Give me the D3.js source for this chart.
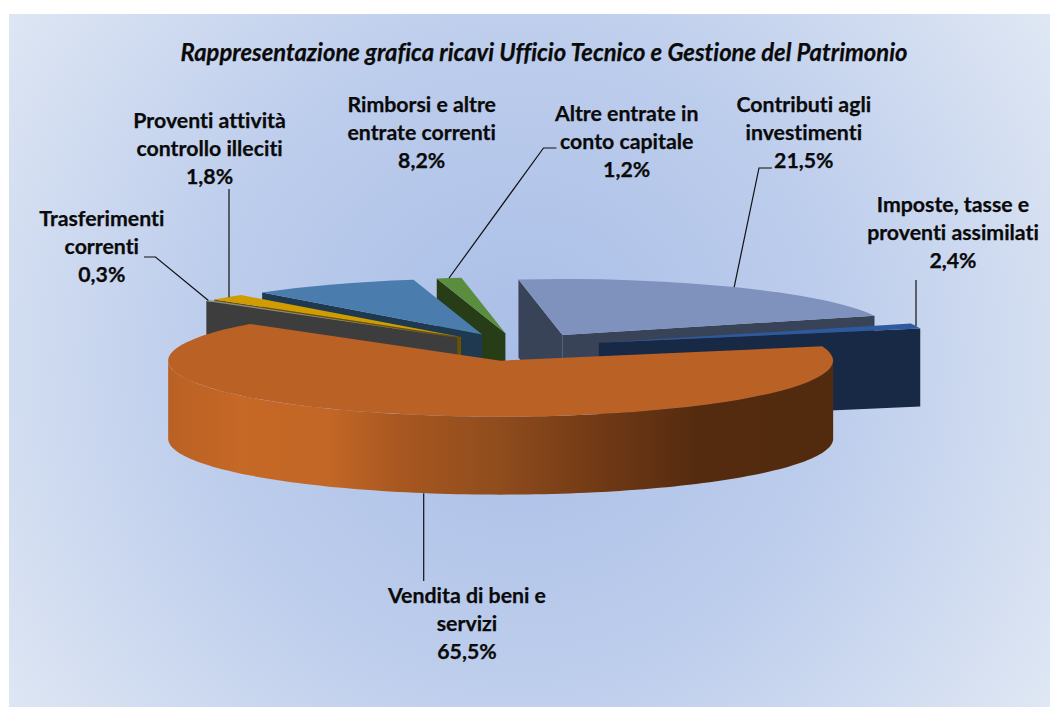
<!DOCTYPE html>
<html><head><meta charset="utf-8">
<script src="https://cdn.jsdelivr.net/npm/d3@7/dist/d3.min.js"></script>
<style>html,body{margin:0;padding:0;background:#fff}svg{display:block}
text{font-family:Lato,Carlito,sans-serif;font-weight:700;fill:#0a0a0a;stroke:#0a0a0a;stroke-width:0.25;font-variant-ligatures:none;font-feature-settings:"liga" 0}</style>
</head><body><svg id="c" width="1060" height="724"></svg>
<script>
// Data
const title = "Rappresentazione grafica ricavi Ufficio Tecnico e Gestione del Patrimonio";
const categories = ["Vendita di beni e servizi","Trasferimenti correnti","Proventi attività controllo illeciti","Rimborsi e altre entrate correnti","Altre entrate in conto capitale","Contributi agli investimenti","Imposte, tasse e proventi assimilati"];
// Share of the wedge as drawn (the Imposte wedge is narrower than its printed 2,4%)
const values = [65.5,0.3,1.8,8.2,1.2,21.5,1.5];
const percentLabels = ["65,5%","0,3%","1,8%","8,2%","1,2%","21,5%","2,4%"];
const labelLines = [["Vendita di beni e","servizi"],["Trasferimenti","correnti"],["Proventi attività","controllo illeciti"],["Rimborsi e altre","entrate correnti"],["Altre entrate in","conto capitale"],["Contributi agli","investimenti"],["Imposte, tasse e","proventi assimilati"]];
// Styling
const topColors  = ["#BA6125","#8C8C8C","#D09C00","#4A7DAD","#5A8E3E","#7F91BD","#2D5A9E"];
const wallColors = ["#3D3D3D","#3D3D3D","#6B5100","#1F3950","#273D17","#384358","#172944"];
// Layout
const W=1060,H=724, cx=519.5, cy=347, rx=332.5, ry=56, depth=78, explode=0.25;
const startDeg=75.2;
const labelPos = [[467,603],[101.8,226],[209.6,127.8],[421.7,111.6],[626.7,121],[803.8,111.6],[953,212]];
const lineStep = 28;
const leaderStarts = [[[423.7,581]],[[144,257],[155.5,257]],[[229,189]],null,[[556.4,148],[543.5,148]],[[772,168],[759,168]],[[916,280]]];

const svg=d3.select("#c"), defs=svg.append("defs");
const bg=defs.append("radialGradient").attr("id","bg").attr("gradientUnits","userSpaceOnUse")
  .attr("cx",520).attr("cy",360).attr("r",640);
[[0,"#A9BEE7"],[0.5,"#BDCDEC"],[1,"#E0E8F4"]].forEach(s=>bg.append("stop").attr("offset",s[0]).attr("stop-color",s[1]));
svg.append("rect").attr("x",9).attr("y",14).attr("width",1041).attr("height",693).attr("fill","url(#bg)");

const og=defs.append("linearGradient").attr("id","ow").attr("gradientUnits","userSpaceOnUse")
  .attr("x1",168).attr("x2",833).attr("y1",0).attr("y2",0);
[[168,"#B96125"],[240,"#C66826"],[330,"#C26726"],[400,"#A85720"],[500,"#8F4C1D"],[600,"#713915"],[700,"#542B0F"],[833,"#522A0E"]]
  .forEach(s=>og.append("stop").attr("offset",(s[0]-168)/665).attr("stop-color",s[1]));

const toRad=Math.PI/180;
const pie=d3.pie().sort(null).startAngle(startDeg*toRad).endAngle((startDeg+360)*toRad);
const arcs=pie(values).map((d,i)=>{
  const mid=(d.startAngle+d.endAngle)/2;
  return {...d,i,mid,ox:cx+explode*rx*Math.sin(mid),oy:cy-explode*ry*Math.cos(mid)};
});
const pt=(d,a,r=1,z=0)=>[d.ox+Math.sin(a)*rx*r,d.oy-Math.cos(a)*ry*r+z];
const line=d3.line();
const arcGen=d3.arc().innerRadius(0).outerRadius(rx);
const g=svg.append("g");
// back to front
arcs.slice().sort((a,b)=>a.oy-b.oy).forEach(d=>{
  const s=g.append("g");
  // radial walls facing the viewer
  const wall=(a)=>{
    const o=[d.ox,d.oy],e=pt(d,a);
    s.append("path").attr("d",line([o,e,[e[0],e[1]+depth],[o[0],o[1]+depth]])+"Z").attr("fill",wallColors[d.i]);
  };
  if(Math.cos(d.startAngle-Math.PI/2-Math.PI)>0) wall(d.startAngle);
  if(Math.cos(d.endAngle+Math.PI/2-Math.PI)>0) wall(d.endAngle);
  // outer wall, front half only
  const a0=Math.max(d.startAngle,Math.PI/2),a1=Math.min(d.endAngle,1.5*Math.PI);
  if(a1>a0){
    const as=d3.range(0,121).map(k=>a0+(a1-a0)*k/120);
    const up=as.map(a=>pt(d,a)),dn=as.map(a=>pt(d,a,1,depth)).reverse();
    s.append("path").attr("d",line(up.concat(dn))+"Z").attr("fill",d.i===0?"url(#ow)":wallColors[d.i]);
  }
  s.append("path").attr("d",arcGen(d)).attr("fill",topColors[d.i])
   .attr("transform",`translate(${d.ox},${d.oy}) scale(1,${ry/rx})`);
});
// leaders
arcs.forEach(d=>{
  const st=leaderStarts[d.i]; if(!st) return;
  const front=Math.cos(d.mid)<0;
  const end=pt(d,d.mid,1,front?depth:0);
  if(st.length===1) end[0]=st[0][0]; // single-segment leaders are vertical
  svg.append("path").attr("d",line(st.concat([end]))).attr("fill","none").attr("stroke","#111").attr("stroke-width",1.2);
});
// labels
arcs.forEach(d=>{
  const t=svg.append("text").attr("text-anchor","middle").attr("font-size",21.3);
  labelLines[d.i].concat([percentLabels[d.i]]).forEach((l,k)=>{
    t.append("tspan").attr("x",labelPos[d.i][0]).attr("y",labelPos[d.i][1]+k*lineStep).text(l);
  });
});
svg.append("text").attr("x",544).attr("y",60.5).attr("text-anchor","middle").attr("font-size",23.8).attr("font-style","italic").text(title);
</script></body></html>
